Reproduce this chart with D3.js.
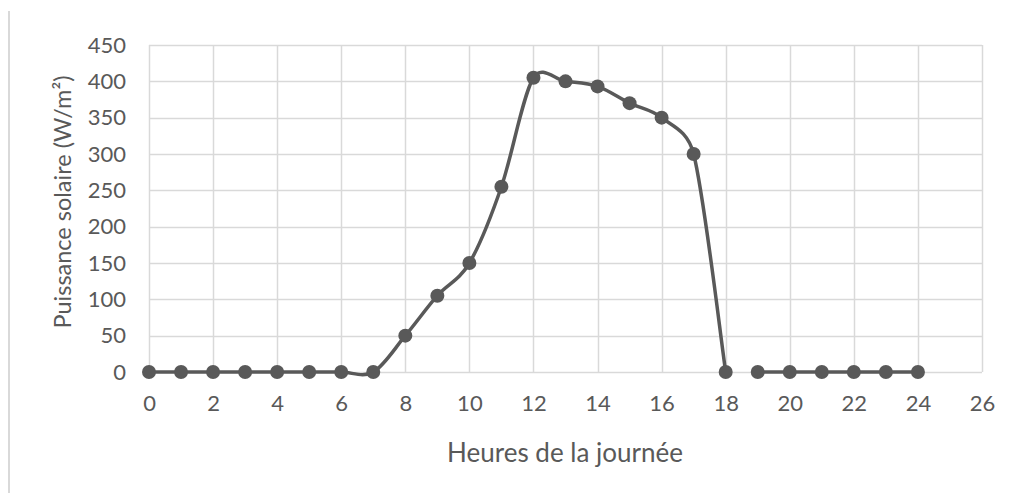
<!DOCTYPE html>
<html>
<head>
<meta charset="utf-8">
<script src="https://cdn.jsdelivr.net/npm/d3@7"></script>
<style>
  html, body { margin: 0; padding: 0; background: #fff; }
  svg { display: block; }
</style>
</head>
<body>
<svg id="chart" width="1012" height="493"></svg>
<script>
const hours = [0,1,2,3,4,5,6,7,8,9,10,11,12,13,14,15,16,17,18,19,20,21,22,23,24];
const power = [0,0,0,0,0,0,0,0,50,105,150,255,405,400,393,370,350,300,0,0,0,0,0,0,0];
// the line is broken between 18 h and 19 h in the reference
const segments = [[0, 18], [19, 24]];
const xTicks = [0,2,4,6,8,10,12,14,16,18,20,22,24,26];
const yTicks = [0,50,100,150,200,250,300,350,400,450];
const xTitle = "Heures de la journée";
const yTitle = "Puissance solaire (W/m²)";

const svg = d3.select("#chart");
const font = "Lato, 'Open Sans', sans-serif";
const textColor = "#595959";
const gridColor = "#d9d9d9";
const lineColor = "#595959";

const x = d3.scaleLinear().domain([0, 26]).range([149, 982]);
const y = d3.scaleLinear().domain([0, 450]).range([372, 45]);

// left border line
svg.append("line").attr("x1", 9).attr("x2", 9).attr("y1", 11).attr("y2", 493)
  .attr("stroke", "#d9d9d9").attr("stroke-width", 2);

// grid
const g = svg.append("g");
g.selectAll("line.h").data(yTicks).join("line")
  .attr("x1", x(0)).attr("x2", x(26))
  .attr("y1", d => Math.round(y(d)) + 0.5).attr("y2", d => Math.round(y(d)) + 0.5)
  .attr("stroke", gridColor).attr("stroke-width", 1.5);
g.selectAll("line.v").data(xTicks).join("line")
  .attr("y1", y(0)).attr("y2", y(450))
  .attr("x1", d => Math.round(x(d)) + 0.5).attr("x2", d => Math.round(x(d)) + 0.5)
  .attr("stroke", gridColor).attr("stroke-width", 1.5);

// axes labels via d3 axes (no domain/tick lines)
const xAxis = svg.append("g").attr("transform", `translate(0,${y(0)})`)
  .call(d3.axisBottom(x).tickValues(xTicks).tickSize(0).tickPadding(23).tickFormat(d3.format("d")));
xAxis.select(".domain").remove();
xAxis.selectAll("text").attr("font-family", font).attr("font-size", 22).attr("fill", textColor);

const yAxis = svg.append("g").attr("transform", `translate(${x(0)},0)`)
  .call(d3.axisLeft(y).tickValues(yTicks).tickSize(0).tickPadding(23).tickFormat(d3.format("d")));
yAxis.select(".domain").remove();
yAxis.selectAll("text").attr("font-family", font).attr("font-size", 22).attr("fill", textColor);

// Excel-like smoothed line (Bezier, control offsets capped at half the segment)
function excelSmooth(pts) {
  const p = d3.path();
  if (!pts.length) return "";
  p.moveTo(pts[0][0], pts[0][1]);
  const dist = (a, b) => Math.hypot(b[0] - a[0], b[1] - a[1]);
  for (let i = 0; i < pts.length - 1; i++) {
    const P0 = pts[i - 1] || pts[i];
    const P1 = pts[i];
    const P2 = pts[i + 1];
    const P3 = pts[i + 2] || pts[i + 1];
    const d12 = dist(P1, P2), d02 = dist(P0, P2), d13 = dist(P1, P3);
    let f1 = 1 / 6, f2 = 1 / 6;
    if (d02 / 6 >= d12 / 2 && d02 > 0) f1 = d12 / (2 * d02);
    if (d13 / 6 >= d12 / 2 && d13 > 0) f2 = d12 / (2 * d13);
    const c1 = [P1[0] + (P2[0] - P0[0]) * f1, P1[1] + (P2[1] - P0[1]) * f1];
    const c2 = [P2[0] - (P3[0] - P1[0]) * f2, P2[1] - (P3[1] - P1[1]) * f2];
    p.bezierCurveTo(c1[0], c1[1], c2[0], c2[1], P2[0], P2[1]);
  }
  return p.toString();
}

const data = hours.map((h, i) => ({h, v: power[i]}));
segments.forEach(([a, b]) => {
  const pts = data.filter(d => d.h >= a && d.h <= b).map(d => [x(d.h), y(d.v)]);
  svg.append("path").attr("d", excelSmooth(pts))
    .attr("fill", "none").attr("stroke", lineColor).attr("stroke-width", 3.5)
    .attr("stroke-linejoin", "round");
});

svg.selectAll("circle.pt").data(data).join("circle")
  .attr("cx", d => x(d.h)).attr("cy", d => y(d.v)).attr("r", 7)
  .attr("fill", lineColor);

// titles
svg.append("text").attr("x", 565).attr("y", 462).attr("text-anchor", "middle")
  .attr("font-family", font).attr("font-size", 26).attr("fill", textColor).text(xTitle);

svg.append("text").attr("transform", "translate(71,202) rotate(-90)").attr("text-anchor", "middle")
  .attr("font-family", font).attr("font-size", 23.5).attr("fill", textColor).text(yTitle);
</script>
</body>
</html>
